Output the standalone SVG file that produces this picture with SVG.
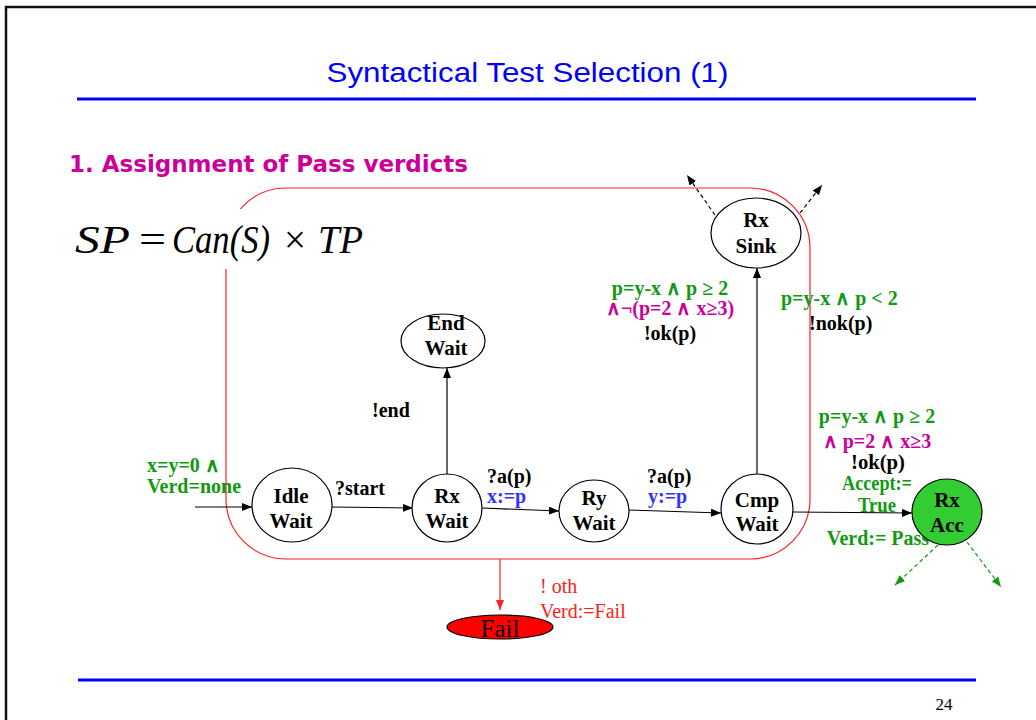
<svg xmlns="http://www.w3.org/2000/svg" width="1036" height="720" viewBox="0 0 1036 720">
  <style>
    .node { fill: #ffffff; stroke: #000000; stroke-width: 1.2; }
    .nlabel { font-family: "Liberation Serif", "Times New Roman", serif; font-weight: bold; font-size: 21px; fill: #000000; text-anchor: middle; }
    .lbl { font-family: "Liberation Serif", "Times New Roman", serif; font-weight: bold; font-size: 20px; fill: #000000; }
    .grn { fill: #119911; }
    .mag { fill: #cc0099; }
    .blu { fill: #3333ff; }
    .edge { fill: none; stroke: #000000; stroke-width: 1.2; }
    .dash { fill: none; stroke: #000000; stroke-width: 1.2; stroke-dasharray: 4 3; }
    .gdash { fill: none; stroke: #119911; stroke-width: 1.2; stroke-dasharray: 4 3; }
    .math { font-family: "Liberation Serif", "Times New Roman", serif; font-size: 40px; fill: #000000; }
  </style>
  <defs>
    <marker id="arrow" markerUnits="userSpaceOnUse" markerWidth="10" markerHeight="8" refX="10" refY="4" orient="auto">
      <path d="M0,0 L10,4 L0,8 Z" fill="#000000"/>
    </marker>
    <marker id="arrowRed" markerUnits="userSpaceOnUse" markerWidth="10" markerHeight="8" refX="10" refY="4" orient="auto">
      <path d="M0,0 L10,4 L0,8 Z" fill="#ff2020"/>
    </marker>
    <marker id="arrowGreen" markerUnits="userSpaceOnUse" markerWidth="10" markerHeight="8" refX="10" refY="4" orient="auto">
      <path d="M0,0 L10,4 L0,8 Z" fill="#119911"/>
    </marker>
  </defs>

  <rect x="0" y="0" width="1036" height="720" fill="#ffffff"/>

  <!-- slide frame -->
  <path d="M6,722 V7 H1040" fill="none" stroke="#111111" stroke-width="2.5"/>

  <!-- heading -->
  <text x="527.5" y="82" text-anchor="middle" textLength="402" lengthAdjust="spacingAndGlyphs" font-family="Liberation Sans, Arial, sans-serif" font-size="27" fill="#0000ff">Syntactical Test Selection (1)</text>
  <line x1="77" y1="99" x2="976" y2="99" stroke="#0000ff" stroke-width="3"/>
  <line x1="78" y1="680" x2="976" y2="680" stroke="#0000ff" stroke-width="3"/>
  <text x="944" y="710" text-anchor="middle" font-family="Liberation Serif, serif" font-size="17" fill="#000000">24</text>

  <text x="69" y="172" font-family="DejaVu Sans, Verdana, sans-serif" font-weight="bold" font-size="23" fill="#cc0099" textLength="399" lengthAdjust="spacingAndGlyphs">1. Assignment of Pass verdicts</text>

  <!-- selected region of the product -->
  <rect x="226" y="188" width="584" height="371" rx="60" ry="60" fill="none" stroke="#ff2020" stroke-width="1.2"/>

  <!-- formula with opaque backing -->
  <g id="formula">
    <rect x="62" y="209" width="310" height="60" fill="#ffffff"/>
    <text class="math" x="75" y="253" font-style="italic" textLength="55" lengthAdjust="spacingAndGlyphs">SP</text>
    <text class="math" x="139" y="253" textLength="27" lengthAdjust="spacingAndGlyphs">=</text>
    <text class="math" x="172" y="253" font-style="italic" textLength="98" lengthAdjust="spacingAndGlyphs">Can(S)</text>
    <text class="math" x="284" y="253" textLength="22" lengthAdjust="spacingAndGlyphs">×</text>
    <text class="math" x="318" y="253" font-style="italic" textLength="45" lengthAdjust="spacingAndGlyphs">TP</text>
  </g>

  <!-- connectors -->
  <g id="connectors">
    <line class="edge" x1="195" y1="507" x2="252" y2="507" marker-end="url(#arrow)"/>
    <line class="edge" x1="332" y1="507" x2="413" y2="508" marker-end="url(#arrow)"/>
    <line class="edge" x1="482" y1="508" x2="559" y2="511" marker-end="url(#arrow)"/>
    <line class="edge" x1="629" y1="510" x2="721" y2="513" marker-end="url(#arrow)"/>
    <line class="edge" x1="793" y1="512" x2="912" y2="513" marker-end="url(#arrow)"/>
    <line class="edge" x1="447" y1="474" x2="447" y2="368" marker-end="url(#arrow)"/>
    <line class="edge" x1="757" y1="474" x2="757" y2="268" marker-end="url(#arrow)"/>
    <line class="dash" x1="715" y1="215" x2="687" y2="175" marker-end="url(#arrow)"/>
    <line class="dash" x1="800" y1="213" x2="822" y2="185" marker-end="url(#arrow)"/>
    <line class="gdash" x1="938" y1="545" x2="895" y2="585" marker-end="url(#arrowGreen)"/>
    <line class="gdash" x1="967" y1="542" x2="1001" y2="587" marker-end="url(#arrowGreen)"/>
    <line x1="500" y1="559" x2="500" y2="610" stroke="#ff2020" stroke-width="1.2" marker-end="url(#arrowRed)"/>
  </g>

  <!-- transition labels -->
  <g id="labels">
    <text class="lbl grn" x="147" y="472" font-size="17">x=y=0 ∧</text>
    <text class="lbl grn" x="147" y="493" font-size="17">Verd=none</text>
    <text class="lbl" x="335" y="495">?start</text>
    <text class="lbl" x="487" y="483">?a(p)</text>
    <text class="lbl blu" x="487" y="503">x:=p</text>
    <text class="lbl" x="647" y="483">?a(p)</text>
    <text class="lbl blu" x="648" y="503">y:=p</text>
    <text class="lbl" x="372" y="417">!end</text>

    <text class="lbl grn" x="670" y="295" text-anchor="middle">p=y-x ∧ p ≥ 2</text>
    <text class="lbl mag" x="670" y="315" text-anchor="middle">∧¬(p=2 ∧ x≥3)</text>
    <text class="lbl" x="670" y="340" text-anchor="middle">!ok(p)</text>

    <text class="lbl grn" x="781" y="305">p=y-x ∧ p &lt; 2</text>
    <text class="lbl" x="809" y="330">!nok(p)</text>

    <text class="lbl grn" x="877" y="423" text-anchor="middle">p=y-x ∧ p ≥ 2</text>
    <text class="lbl mag" x="877" y="448" text-anchor="middle">∧ p=2 ∧ x≥3</text>
    <text class="lbl" x="878" y="469" text-anchor="middle" font-size="18" textLength="54" lengthAdjust="spacingAndGlyphs">!ok(p)</text>
    <text class="lbl grn" x="877" y="490" text-anchor="middle" font-size="15" textLength="70" lengthAdjust="spacingAndGlyphs">Accept:=</text>
    <text class="lbl grn" x="877" y="512" text-anchor="middle" font-size="16" textLength="38" lengthAdjust="spacingAndGlyphs">True</text>
    <text class="lbl grn" x="878" y="545" text-anchor="middle" font-size="17">Verd:= Pass</text>

    <text x="540" y="593" font-family="Liberation Serif, serif" font-size="20" fill="#ff2020">! oth</text>
    <text x="540" y="618" font-family="Liberation Serif, serif" font-size="20" fill="#ff2020">Verd:=Fail</text>
  </g>

  <!-- states -->
  <g id="idle-wait">
    <ellipse class="node" cx="292" cy="505" rx="40" ry="37"/>
    <text class="nlabel" x="291" y="503">Idle</text>
    <text class="nlabel" x="291" y="528">Wait</text>
  </g>
  <g id="rx-wait">
    <ellipse class="node" cx="447" cy="508" rx="35" ry="34"/>
    <text class="nlabel" x="447" y="503">Rx</text>
    <text class="nlabel" x="447" y="528">Wait</text>
  </g>
  <g id="ry-wait">
    <ellipse class="node" cx="594" cy="511" rx="35" ry="31"/>
    <text class="nlabel" x="594" y="505">Ry</text>
    <text class="nlabel" x="594" y="530">Wait</text>
  </g>
  <g id="cmp-wait">
    <ellipse class="node" cx="757" cy="509" rx="36" ry="35"/>
    <text class="nlabel" x="757" y="507">Cmp</text>
    <text class="nlabel" x="757" y="531">Wait</text>
  </g>
  <g id="end-wait">
    <ellipse class="node" cx="443" cy="341" rx="42" ry="27"/>
    <text class="nlabel" x="446" y="330">End</text>
    <text class="nlabel" x="446" y="355">Wait</text>
  </g>
  <g id="rx-sink">
    <ellipse class="node" cx="756" cy="233" rx="45" ry="35"/>
    <text class="nlabel" x="756" y="227">Rx</text>
    <text class="nlabel" x="756" y="253">Sink</text>
  </g>
  <g id="rx-acc">
    <ellipse cx="947" cy="512" rx="35" ry="33" fill="#33cc33" stroke="#000000" stroke-width="1.2"/>
    <text class="nlabel" x="947" y="507">Rx</text>
    <text class="nlabel" x="947" y="532">Acc</text>
  </g>
  <g id="fail">
    <ellipse cx="500" cy="627" rx="53" ry="12" fill="#ff0000" stroke="#000000" stroke-width="1.2"/>
    <text x="500" y="637" text-anchor="middle" font-family="Liberation Serif, serif" font-size="25" fill="#000000">Fail</text>
  </g>
</svg>
